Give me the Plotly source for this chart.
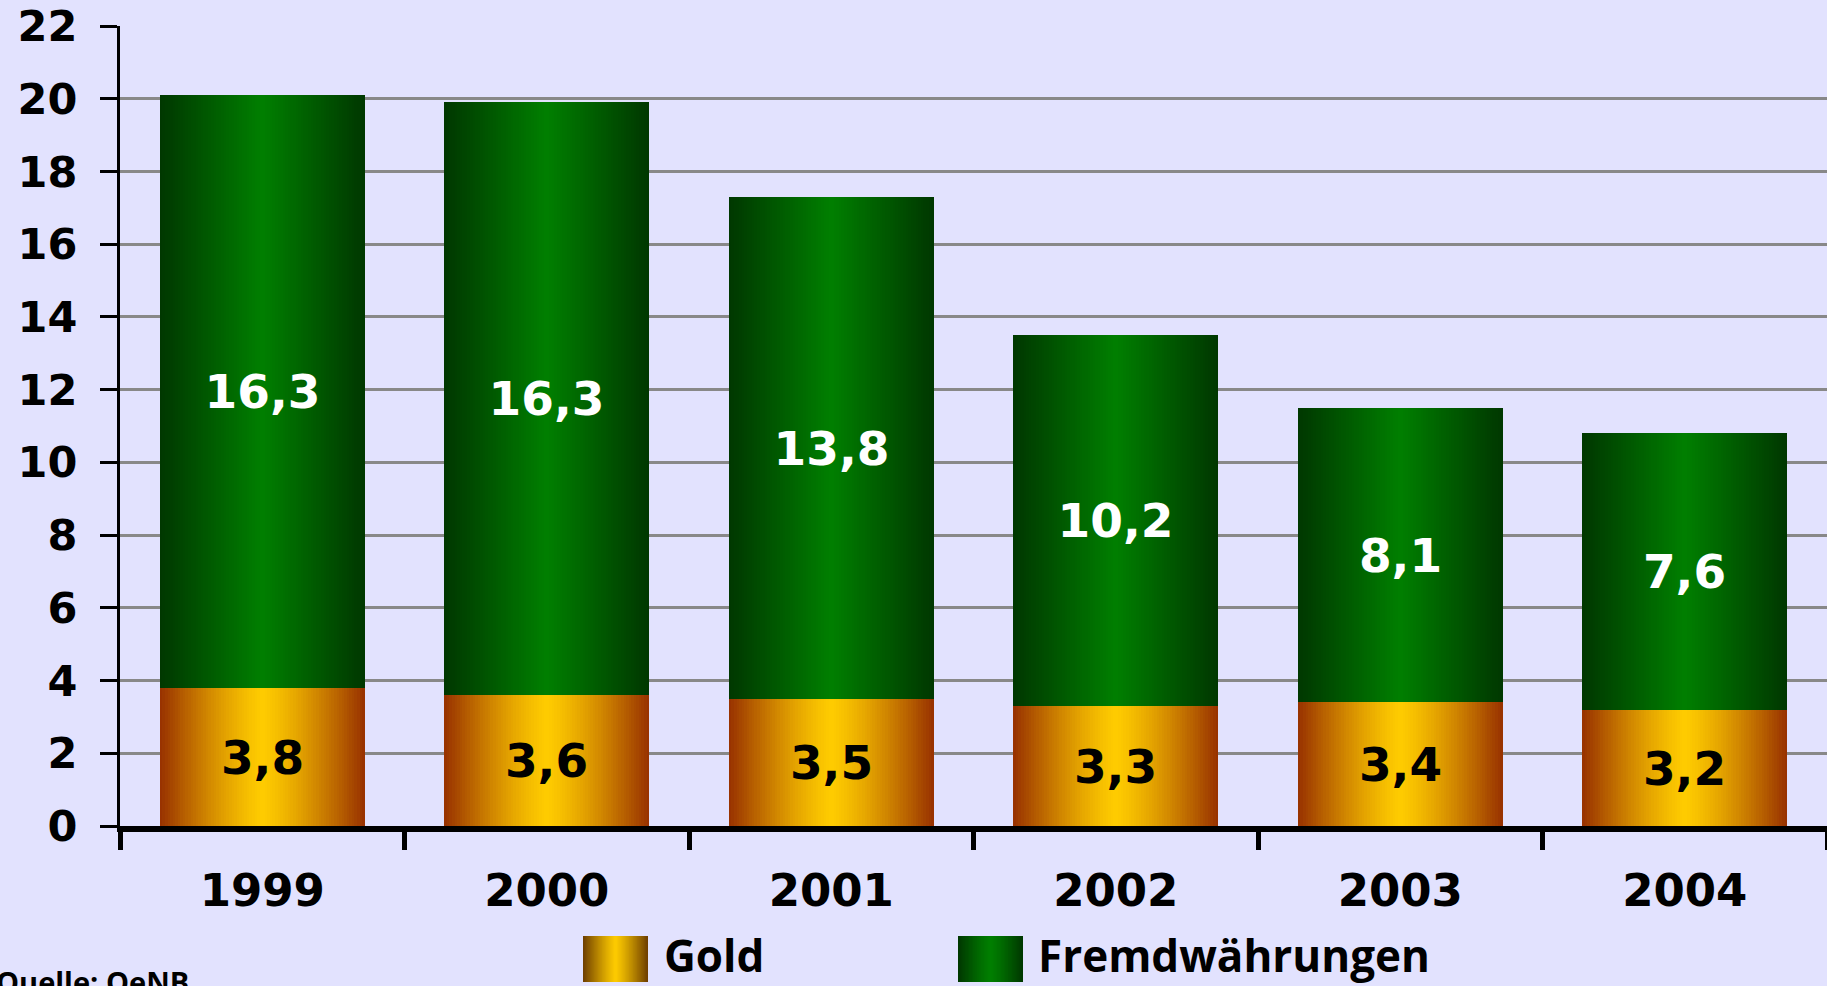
import plotly.graph_objects as go

# ---------------- data ----------------
years = ["1999", "2000", "2001", "2002", "2003", "2004"]
gold = [3.8, 3.6, 3.5, 3.3, 3.4, 3.2]
fremd = [16.3, 16.3, 13.8, 10.2, 8.1, 7.6]
y_ticks = list(range(0, 23, 2))
series_names = ["Gold", "Fremdwährungen"]
source_text = "Quelle: OeNB"

# ---------------- layout constants ----------------
FIG_W, FIG_H = 1827, 986
M_L, M_R, M_T, M_B = 120, 0, 26, 160
PLOT_W = FIG_W - M_L - M_R
PLOT_H = FIG_H - M_T - M_B
BAR_W = 0.72
N_LAYERS = 40
BG = "#E2E2FE"
NUM_FONT = "DejaVu Sans"
TXT_FONT = "Open Sans"

GOLD_EDGE, GOLD_CENTER = (153, 51, 0), (255, 204, 0)
GREEN_EDGE, GREEN_CENTER = (0, 56, 0), (0, 128, 0)
LEG_GOLD_EDGE = (112, 64, 0)


def mix(edge, center, d, gamma=1.0):
    t = d ** gamma
    r, g, b = (round(c + (e - c) * t) for e, c in zip(edge, center))
    return f"rgb({r},{g},{b})"


def fmt(v):
    return f"{v:.1f}".replace(".", ",")


fig = go.Figure()

# gradient bars drawn as overlaid layers, widest (edge colour) to narrowest (centre colour)
for k in range(N_LAYERS):
    f = (N_LAYERS - k) / N_LAYERS
    fig.add_trace(go.Bar(
        x=years, y=gold, base=[0] * len(gold), width=BAR_W * f,
        marker=dict(color=mix(GOLD_EDGE, GOLD_CENTER, f, 1.3), line=dict(width=0)),
        hoverinfo="skip", showlegend=False))
for k in range(N_LAYERS):
    f = (N_LAYERS - k) / N_LAYERS
    fig.add_trace(go.Bar(
        x=years, y=fremd, base=gold, width=BAR_W * f,
        marker=dict(color=mix(GREEN_EDGE, GREEN_CENTER, f, 1.0), line=dict(width=0)),
        hoverinfo="skip", showlegend=False))

# value labels
fig.add_trace(go.Bar(
    x=years, y=gold, base=[0] * len(gold), width=BAR_W,
    marker=dict(color="rgba(0,0,0,0)", line=dict(width=0)),
    text=[fmt(v) for v in gold], texttemplate="%{text}",
    textposition="inside", insidetextanchor="middle", constraintext="none",
    textfont=dict(family=NUM_FONT, size=47, color="black", weight="bold"),
    hoverinfo="skip", showlegend=False))
fig.add_trace(go.Bar(
    x=years, y=fremd, base=gold, width=BAR_W,
    marker=dict(color="rgba(0,0,0,0)", line=dict(width=0)),
    text=[fmt(v) for v in fremd], texttemplate="%{text}",
    textposition="inside", insidetextanchor="middle", constraintext="none",
    textfont=dict(family=NUM_FONT, size=47, color="white", weight="bold"),
    hoverinfo="skip", showlegend=False))


# ---------------- legend (manual, gradient swatches) ----------------
def px_x(px):
    return (px - M_L) / PLOT_W


def px_y(py):
    return (FIG_H - M_B - py) / PLOT_H


shapes = []
legend_items = [
    (series_names[0], 583, 648, 662, LEG_GOLD_EDGE, GOLD_CENTER),
    (series_names[1], 958, 1023, 1036, GREEN_EDGE, GREEN_CENTER),
]
SW_TOP, SW_BOT = 936, 982
annotations = []
for name, x0, x1, tx, edge, center in legend_items:
    cx = (x0 + x1) / 2
    half = (x1 - x0) / 2
    n = 24
    for k in range(n):
        f = (n - k) / n
        shapes.append(dict(
            type="rect", xref="paper", yref="paper",
            x0=px_x(cx - half * f), x1=px_x(cx + half * f),
            y0=px_y(SW_BOT), y1=px_y(SW_TOP),
            fillcolor=mix(edge, center, f, 1.2), line=dict(width=0), layer="above"))
    annotations.append(dict(
        text=name, xref="paper", yref="paper", x=px_x(tx), y=px_y(955),
        xanchor="left", yanchor="middle", showarrow=False,
        font=dict(family=TXT_FONT, size=44, color="black", weight="bold")))

annotations.append(dict(
    text=source_text, xref="paper", yref="paper", x=px_x(-6), y=px_y(960),
    xanchor="left", yanchor="top", showarrow=False,
    font=dict(family=TXT_FONT, size=29, color="black", weight="bold")))

fig.update_layout(
    width=FIG_W, height=FIG_H, autosize=False,
    margin=dict(l=M_L, r=M_R, t=M_T, b=M_B, pad=0),
    paper_bgcolor=BG, plot_bgcolor=BG,
    barmode="overlay", bargap=0, separators=",.",
    showlegend=False,
    shapes=shapes, annotations=annotations,
    xaxis=dict(
        type="category", showgrid=False, tickson="boundaries",
        ticks="outside", ticklen=18, tickwidth=5, tickcolor="black",
        showline=True, linecolor="black", linewidth=6,
        ticklabelstandoff=20,
        tickfont=dict(family=NUM_FONT, size=45, color="black", weight="bold"),
    ),
    yaxis=dict(
        range=[0, 22], tickvals=y_ticks, ticktext=[str(v) for v in y_ticks],
        showgrid=True, gridcolor="#888888", gridwidth=2.5, zeroline=False,
        ticks="outside", ticklen=17, tickwidth=3, tickcolor="black",
        showline=True, linecolor="black", linewidth=3,
        ticklabelstandoff=14,
        tickfont=dict(family=NUM_FONT, size=43, color="black", weight="bold"),
    ),
)

fig.write_html(
    "out.html",
    config={"displayModeBar": False},
    post_script="document.body.style.margin='0';document.body.style.overflow='hidden';",
)
